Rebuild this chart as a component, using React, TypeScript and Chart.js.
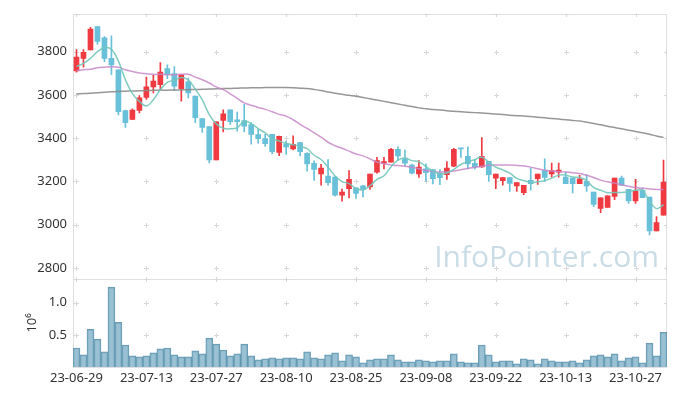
import React, { useEffect, useRef } from 'react';
import { Chart, registerables } from 'chart.js';

Chart.register(...registerables);

const DATES = [
  '23-06-29', '23-06-30', '23-07-03', '23-07-04', '23-07-05', '23-07-06', '23-07-07', '23-07-10', '23-07-11', '23-07-12',
  '23-07-13', '23-07-14', '23-07-17', '23-07-18', '23-07-19', '23-07-20', '23-07-21', '23-07-24', '23-07-25', '23-07-26',
  '23-07-27', '23-07-28', '23-07-31', '23-08-01', '23-08-02', '23-08-03', '23-08-04', '23-08-07', '23-08-08', '23-08-09',
  '23-08-10', '23-08-11', '23-08-14', '23-08-16', '23-08-17', '23-08-18', '23-08-21', '23-08-22', '23-08-23', '23-08-24',
  '23-08-25', '23-08-28', '23-08-29', '23-08-30', '23-08-31', '23-09-01', '23-09-04', '23-09-05', '23-09-06', '23-09-07',
  '23-09-08', '23-09-11', '23-09-12', '23-09-13', '23-09-14', '23-09-15', '23-09-18', '23-09-19', '23-09-20', '23-09-21',
  '23-09-22', '23-09-25', '23-09-26', '23-09-27', '23-10-04', '23-10-05', '23-10-06', '23-10-10', '23-10-11', '23-10-12',
  '23-10-13', '23-10-16', '23-10-17', '23-10-18', '23-10-19', '23-10-20', '23-10-23', '23-10-24', '23-10-25', '23-10-26',
  '23-10-27', '23-10-30', '23-10-31', '23-11-01', '23-11-02',
];

const OPEN = [
  3711, 3769, 3808, 3916, 3864, 3769, 3716, 3528, 3487, 3528,
  3588, 3637, 3647, 3722, 3699, 3629, 3660, 3594, 3490, 3453,
  3299, 3482, 3531, 3485, 3481, 3463, 3417, 3398, 3418, 3334,
  3374, 3350, 3380, 3330, 3284, 3235, 3224, 3220, 3136, 3166,
  3170, 3179, 3174, 3243, 3284, 3289, 3348, 3304, 3276, 3234,
  3258, 3255, 3238, 3231, 3270, 3353, 3316, 3284, 3267, 3293,
  3215, 3203, 3218, 3179, 3148, 3205, 3212, 3250, 3234, 3243,
  3220, 3215, 3189, 3200, 3151, 3075, 3080, 3131, 3215, 3163,
  3110, 3159, 3128, 2971, 3044,
];
const HIGH = [
  3810, 3810, 3912, 3916, 3870, 3873, 3716, 3530, 3536, 3597,
  3682, 3691, 3749, 3739, 3731, 3695, 3678, 3594, 3490, 3453,
  3476, 3531, 3531, 3520, 3556, 3472, 3441, 3418, 3418, 3410,
  3386, 3411, 3380, 3332, 3295, 3279, 3301, 3222, 3164, 3250,
  3170, 3181, 3234, 3311, 3311, 3353, 3360, 3345, 3280, 3296,
  3281, 3255, 3255, 3292, 3353, 3353, 3360, 3301, 3403, 3293,
  3234, 3218, 3218, 3194, 3182, 3263, 3234, 3304, 3285, 3285,
  3243, 3215, 3228, 3232, 3151, 3124, 3133, 3215, 3224, 3163,
  3209, 3170, 3128, 3037, 3298,
];
const LOW = [
  3705, 3728, 3808, 3835, 3754, 3693, 3507, 3449, 3485, 3517,
  3579, 3609, 3621, 3675, 3620, 3571, 3586, 3472, 3426, 3285,
  3299, 3429, 3463, 3432, 3429, 3372, 3377, 3362, 3327, 3319,
  3325, 3346, 3318, 3247, 3205, 3182, 3182, 3132, 3108, 3124,
  3121, 3128, 3163, 3238, 3258, 3289, 3296, 3273, 3235, 3218,
  3200, 3188, 3185, 3209, 3268, 3311, 3258, 3258, 3265, 3200,
  3166, 3182, 3154, 3154, 3139, 3159, 3186, 3200, 3220, 3220,
  3189, 3147, 3189, 3154, 3083, 3055, 3080, 3116, 3180, 3098,
  3098, 3125, 2953, 2971, 3044,
];
const CLOSE = [
  3775, 3797, 3904, 3847, 3769, 3739, 3522, 3472, 3530, 3586,
  3637, 3664, 3705, 3696, 3640, 3693, 3609, 3495, 3449, 3299,
  3476, 3513, 3476, 3476, 3455, 3417, 3398, 3374, 3337, 3408,
  3359, 3371, 3337, 3281, 3255, 3261, 3194, 3136, 3151, 3209,
  3144, 3163, 3234, 3296, 3292, 3348, 3318, 3284, 3238, 3266,
  3240, 3212, 3217, 3261, 3348, 3350, 3281, 3266, 3316, 3231,
  3234, 3218, 3191, 3194, 3182, 3189, 3234, 3218, 3250, 3252,
  3189, 3189, 3212, 3179, 3093, 3124, 3133, 3215, 3182, 3110,
  3156, 3125, 2971, 3009, 3197,
];
const VOLUME = [
  296000, 190000, 587000, 434000, 235000, 1245000, 694000, 342000, 173000, 158000,
  173000, 219000, 281000, 296000, 190000, 158000, 158000, 250000, 204000, 449000,
  357000, 265000, 173000, 204000, 357000, 173000, 112000, 128000, 143000, 128000,
  143000, 143000, 128000, 235000, 143000, 128000, 190000, 219000, 97000, 190000,
  158000, 66000, 112000, 128000, 128000, 190000, 112000, 82000, 82000, 112000,
  97000, 82000, 97000, 97000, 204000, 82000, 66000, 66000, 342000, 190000,
  82000, 97000, 97000, 51000, 128000, 112000, 51000, 128000, 97000, 82000,
  82000, 97000, 66000, 112000, 173000, 190000, 158000, 204000, 97000, 143000,
  158000, 66000, 372000, 173000, 541000,
];
const MA5 = [
  3731, 3746, 3769, 3800, 3818, 3811, 3756, 3670, 3606, 3570,
  3549, 3578, 3624, 3658, 3668, 3680, 3669, 3627, 3577, 3509,
  3466, 3446, 3443, 3448, 3479, 3467, 3444, 3424, 3396, 3387,
  3375, 3370, 3362, 3351, 3321, 3301, 3266, 3225, 3199, 3190,
  3167, 3161, 3180, 3209, 3226, 3267, 3298, 3308, 3296, 3291,
  3269, 3248, 3235, 3239, 3256, 3278, 3291, 3301, 3312, 3289,
  3266, 3253, 3238, 3214, 3204, 3195, 3198, 3203, 3215, 3229,
  3229, 3220, 3218, 3204, 3172, 3159, 3148, 3149, 3149, 3153,
  3159, 3158, 3109, 3074, 3092,
];
const MA20 = [
  3713, 3716, 3719, 3725, 3728, 3730, 3728, 3716, 3708, 3701,
  3698, 3695, 3695, 3693, 3693, 3695, 3695, 3682, 3670, 3655,
  3637, 3624, 3605, 3584, 3563, 3552, 3542, 3533, 3522, 3510,
  3502, 3485, 3464, 3445, 3425, 3405, 3381, 3365, 3353, 3340,
  3327, 3318, 3304, 3289, 3282, 3276, 3273, 3270, 3265, 3258,
  3250, 3246, 3243, 3244, 3248, 3254, 3260, 3265, 3270, 3275,
  3276, 3276, 3276, 3274, 3271, 3266, 3258, 3252, 3248, 3245,
  3243, 3240, 3236, 3228, 3218, 3206, 3198, 3192, 3184, 3178,
  3172, 3168, 3165, 3163, 3162,
];
const MA60 = [
  3604, 3606, 3608, 3610, 3612, 3614, 3616, 3617, 3618, 3619,
  3620, 3621, 3622, 3622, 3623, 3623, 3624, 3625, 3626, 3627,
  3628, 3629, 3630, 3631, 3632, 3633, 3633, 3634, 3634, 3634,
  3634, 3633, 3631, 3629, 3625, 3620, 3613, 3608, 3603, 3598,
  3594, 3588, 3582, 3576, 3570, 3564, 3558, 3552, 3546, 3540,
  3536, 3533, 3530, 3527, 3524, 3522, 3520, 3518, 3516, 3514,
  3512, 3509, 3506, 3504, 3502, 3500, 3497, 3494, 3491, 3488,
  3485, 3482, 3479, 3474, 3468, 3462, 3455, 3449, 3443, 3437,
  3431, 3425, 3418, 3410, 3403,
];

const PRICE_MIN = 2750;
const PRICE_MAX = 3975;
const PRICE_TICKS = [2800, 3000, 3200, 3400, 3600, 3800];
const VOL_MAX = 1375000;
const VOL_TICKS = [500000, 1000000];
const VOL_UNIT = 1000000;
const VOL_TITLE = '10⁶';
const LABEL_EVERY = 10;
const WATERMARK = 'InfoPointer.com';

const UP = '#ee3a40';
const DOWN = '#68c0d9';
const FONT = '"Noto Sans", "Open Sans", sans-serif';
const FRAME = '#e0e0e0';

const decorPlugin = {
  id: 'decor',
  beforeDatasetsDraw(chart: any) {
    const { ctx, chartArea, scales } = chart;
    const xs = scales.x;
    const yp = scales.y;
    const yv = scales.yv;
    ctx.save();
    // watermark
    ctx.font = '30px "Open Sans", "Noto Sans", sans-serif';
    ctx.fillStyle = '#cadde7';
    ctx.textAlign = 'right';
    ctx.textBaseline = 'alphabetic';
    ctx.fillText(WATERMARK, chartArea.right - 8, yp.bottom - 12);

    // frame
    ctx.strokeStyle = FRAME;
    ctx.lineWidth = 1;
    const l = Math.round(chartArea.left) + 0.5;
    const r = Math.round(chartArea.right) - 0.5;
    const t = Math.round(chartArea.top) + 0.5;
    const b = Math.round(chartArea.bottom) + 0.5;
    const sep = Math.round(yp.bottom) + 0.5;
    ctx.beginPath();
    ctx.moveTo(l, t); ctx.lineTo(r, t); ctx.lineTo(r, b); ctx.lineTo(l, b); ctx.closePath();
    ctx.moveTo(l, sep); ctx.lineTo(r, sep);
    ctx.stroke();

    // crosses at grid intersections
    ctx.beginPath();
    ctx.rect(chartArea.left, chartArea.top, chartArea.right - chartArea.left, chartArea.bottom - chartArea.top);
    ctx.clip();
    const xPix: number[] = [];
    for (let i = 0; i < DATES.length; i += LABEL_EVERY) xPix.push(Math.round(xs.getPixelForValue(i)) + 0.5);
    const yPix: number[] = [];
    yp.ticks.forEach((tk: any) => yPix.push(Math.round(yp.getPixelForValue(tk.value)) + 0.5));
    yv.ticks.forEach((tk: any) => { if (tk.value > 0) yPix.push(Math.round(yv.getPixelForValue(tk.value)) + 0.5); });
    const xAll = [l, ...xPix, r];
    const yAll = [t, sep, ...yPix];
    ctx.strokeStyle = '#d8d8d8';
    ctx.beginPath();
    for (const x of xAll) {
      for (const y of yAll) {
        const onX = xPix.includes(x);
        const onY = yPix.includes(y);
        if (!onX && !onY) continue;
        ctx.moveTo(x - 2.5, y); ctx.lineTo(x + 2.5, y);
        ctx.moveTo(x, y - 2.5); ctx.lineTo(x, y + 2.5);
      }
    }
    ctx.stroke();
    ctx.restore();
  },
};

export default function App() {
  const ref = useRef<HTMLCanvasElement>(null);

  useEffect(() => {
    if (!ref.current) return;
    const colors = CLOSE.map((c, i) => (c >= OPEN[i] ? UP : DOWN));
    const tickFont = { family: FONT, size: 13 };
    const chart = new Chart(ref.current, {
      type: 'bar',
      data: {
        labels: DATES,
        datasets: [
          {
            type: 'line', label: 'MA5', data: MA5, yAxisID: 'y',
            borderColor: 'rgba(115,198,185,0.9)', borderWidth: 1.5, pointRadius: 0, tension: 0.4, order: 1,
          } as any,
          {
            type: 'line', label: 'MA20', data: MA20, yAxisID: 'y',
            borderColor: 'rgba(200,135,200,0.85)', borderWidth: 1.5, pointRadius: 0, tension: 0.4, order: 1,
          } as any,
          {
            type: 'line', label: 'MA60', data: MA60, yAxisID: 'y',
            borderColor: 'rgba(140,140,140,0.9)', borderWidth: 1.5, pointRadius: 0, tension: 0.4, order: 1,
          } as any,
          {
            type: 'bar', label: 'body', data: OPEN.map((o, i) => [o, CLOSE[i]]), yAxisID: 'y',
            backgroundColor: colors, barThickness: 5, grouped: false, minBarLength: 1, order: 2,
          } as any,
          {
            type: 'bar', label: 'wick', data: LOW.map((lo, i) => [lo, HIGH[i]]), yAxisID: 'y',
            backgroundColor: colors, barThickness: 1, grouped: false, order: 3,
          } as any,
          {
            type: 'bar', label: 'volume', data: VOLUME, yAxisID: 'yv',
            backgroundColor: 'rgba(125,175,198,0.78)', borderColor: 'rgba(90,145,172,0.9)', borderWidth: 1,
            barPercentage: 1, categoryPercentage: 1, grouped: false, order: 4,
          } as any,
        ],
      },
      options: {
        responsive: false,
        maintainAspectRatio: false,
        animation: false,
        devicePixelRatio: 1,
        events: [],
        layout: { padding: { left: 21, right: 10, top: 10, bottom: 7 } },
        plugins: { legend: { display: false }, tooltip: { enabled: false } },
        scales: {
          x: {
            type: 'category',
            offset: true,
            grid: { display: false, drawTicks: false },
            border: { display: false },
            ticks: {
              autoSkip: false, maxRotation: 0, minRotation: 0, padding: 3, color: '#333', font: tickFont,
              callback: (_v: any, i: number) => (i % LABEL_EVERY === 0 ? DATES[i] : ''),
            },
            afterFit: (s: any) => { s.height = 22; },
          },
          y: {
            type: 'linear', position: 'left', stack: 'pane', stackWeight: 3, weight: 1,
            min: PRICE_MIN, max: PRICE_MAX,
            grid: { display: false, drawTicks: false },
            border: { display: false },
            ticks: {
              padding: 6, color: '#333', font: tickFont,
              callback: (v: any) => String(v),
            },
            afterBuildTicks: (s: any) => { s.ticks = PRICE_TICKS.map((v) => ({ value: v })); },
            afterFit: (s: any) => { s.width = 52; },
          },
          yv: {
            type: 'linear', position: 'left', stack: 'pane', stackWeight: 1, weight: 0,
            min: 0, max: VOL_MAX,
            grid: { display: false, drawTicks: false },
            border: { display: false },
            title: { display: true, text: VOL_TITLE, color: '#333', font: { family: FONT, size: 13 }, padding: { top: 3, bottom: 0 } },
            ticks: {
              padding: 6, color: '#333', font: tickFont,
              callback: (v: any) => (v / VOL_UNIT).toFixed(1),
            },
            afterBuildTicks: (s: any) => { s.ticks = VOL_TICKS.map((v) => ({ value: v })); },
            afterFit: (s: any) => { s.width = 52; },
          },
        },
      } as any,
      plugins: [decorPlugin],
    });
    return () => chart.destroy();
  }, []);

  return (
    <div style={{ position: 'fixed', left: 0, top: 0, width: 677, height: 396, background: '#fff' }}>
      <canvas ref={ref} width={677} height={396} />
    </div>
  );
}
